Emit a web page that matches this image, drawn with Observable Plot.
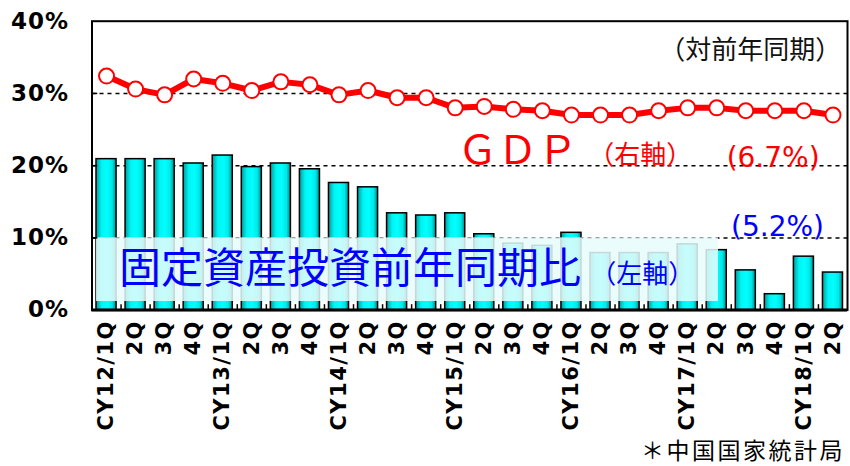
<!DOCTYPE html>
<html>
<head>
<meta charset="utf-8">
<script src="https://cdn.jsdelivr.net/npm/d3@7"></script>
<script src="https://cdn.jsdelivr.net/npm/@observablehq/plot@0.6"></script>
<style>
  html, body { margin: 0; padding: 0; background: #fff; }
  #chart { width: 850px; height: 466px; overflow: hidden; }
  #chart svg { display: block; }
  g[aria-label="x-axis tick label"] text { font-weight: bold; letter-spacing: 1.5px; }
  g[aria-label="y-axis tick label"] text { font-weight: bold; letter-spacing: 1px; }
  g[aria-label="pct-note"] text { letter-spacing: 1.5px; }
  g[aria-label="fai-label"] text { filter: drop-shadow(1.5px 1.5px 1px rgba(0,0,0,0.35)); }
  #caption { height: 34px; line-height: 34px; text-align: right; padding-right: 5px;
             font-family: "Noto Sans CJK JP"; font-size: 23px; letter-spacing: 2.5px; color: #000;
             white-space: nowrap; }
</style>
</head>
<body>
<div id="chart"></div>
<script>
// Quarter tick labels (CY12/1Q … CY18/2Q)
const xLabels = ["CY12/1Q","2Q","3Q","4Q","CY13/1Q","2Q","3Q","4Q","CY14/1Q","2Q","3Q","4Q",
                 "CY15/1Q","2Q","3Q","4Q","CY16/1Q","2Q","3Q","4Q","CY17/1Q","2Q","3Q","4Q",
                 "CY18/1Q","2Q"];
// Fixed-asset investment, YoY % (left axis)
const faiGrowth = [20.9,20.9,20.9,20.3,21.4,19.8,20.3,19.5,17.6,17.0,13.4,13.1,
                   13.4,10.5,9.2,8.9,10.7,7.9,7.9,7.9,9.1,8.3,5.5,2.2,7.4,5.2];
// GDP, YoY % (right axis, 0–10%)
const gdpGrowth = [8.1,7.65,7.45,8.0,7.85,7.6,7.9,7.8,7.45,7.6,7.35,7.35,
                   7.0,7.05,6.95,6.9,6.75,6.75,6.75,6.9,7.0,7.0,6.9,6.9,6.9,6.75];
const yTicks = [0,10,20,30,40];
const gridLines = [10,20,30];
const rightAxisFactor = 4; // right axis 0–10% spans the left axis 0–40%

const noteTexts = {
  period: "（対前年同期）",
  gdp: "ＧＤＰ",
  gdpAxis: "（右軸）",
  gdpLast: "(6.7%)",
  faiLast: "(5.2%)",
  fai: "固定資産投資前年同期比",
  faiAxis: "（左軸）"
};
const source = "＊中国国家統計局";

const idx = xLabels.map((_, i) => i);
const cjk = "Noto Sans CJK JP";
const half = 0.345;

const plot = Plot.plot({
  width: 850,
  height: 432,
  marginLeft: 91.5,
  marginRight: 3,
  marginTop: 20.7,
  marginBottom: 122.4,
  x: {type: "linear", domain: [-0.5, 25.5], axis: null},
  y: {domain: [0, 40], axis: null},
  style: {fontFamily: "DejaVu Sans", background: "white", color: "black", overflow: "visible"},
  marks: [
    Plot.ruleY(gridLines, {stroke: "#000", strokeWidth: 1.5, strokeDasharray: "4,4"}),
    Plot.rect(idx, {
      x1: i => i - half, x2: i => i + half, y1: 0, y2: i => faiGrowth[i],
      fill: "url(#barGrad)", stroke: "#000", strokeWidth: 1.5
    }),
    Plot.rect([0], {x1: -0.345, x2: 21.06, y1: 1.19, y2: 10, fill: "#e6fbfb", fillOpacity: 0.86}),
    Plot.ruleX(idx.slice(1), {x: i => i - 0.5, y1: 0, y2: 0.75, stroke: "#000", strokeWidth: 1.5}),
    Plot.ruleY(gridLines, {x1: -0.5, x2: -0.3, stroke: "#000", strokeWidth: 1.5}),
    Plot.line(idx, {x: i => i, y: i => gdpGrowth[i] * rightAxisFactor, stroke: "#ff0000", strokeWidth: 6}),
    Plot.dot(idx, {x: i => i, y: i => gdpGrowth[i] * rightAxisFactor, r: 7.5, fill: "#fff", stroke: "#ff0000", strokeWidth: 2}),
    Plot.frame({stroke: "#000", strokeWidth: 2}),
    Plot.ruleY([0], {stroke: "#000", strokeWidth: 3}),
    Plot.axisY({ticks: yTicks, tickFormat: d => d + "%", tickSize: 0, tickPadding: 23,
                fontSize: 23, fontWeight: "bold", anchor: "left"}),
    Plot.axisX({ticks: idx, tickFormat: i => xLabels[i], tickRotate: -90, tickSize: 0,
                tickPadding: 10, fontSize: 21, fontWeight: "bold", anchor: "bottom"}),
    Plot.text([noteTexts.period], {x: 22.15, y: 35.9, fontFamily: cjk, fontSize: 26, fill: "#111",
                                   textAnchor: "middle", lineAnchor: "middle"}),
    Plot.text([noteTexts.gdp], {x: 14.14, y: 21.97, fontFamily: cjk, fontSize: 40, fill: "#ff0000",
                                textAnchor: "middle", lineAnchor: "middle"}),
    Plot.text([noteTexts.gdpAxis], {x: 18.37, y: 21.36, fontFamily: cjk, fontSize: 26, fill: "#ff0000",
                                    textAnchor: "middle", lineAnchor: "middle"}),
    Plot.text([noteTexts.gdpLast], {x: 22.94, y: 21.03, fontFamily: "DejaVu Sans", fontSize: 28, fill: "#ff0000",
                                    textAnchor: "middle", lineAnchor: "middle", ariaLabel: "pct-note"}),
    Plot.text([noteTexts.faiLast], {x: 23.09, y: 11.55, fontFamily: "DejaVu Sans", fontSize: 28, fill: "#0000ff",
                                    textAnchor: "middle", lineAnchor: "middle", ariaLabel: "pct-note"}),
    Plot.text([noteTexts.fai], {x: 8.38, y: 5.6, fontFamily: cjk, fontSize: 42, fill: "#0000ff",
                                textAnchor: "middle", lineAnchor: "middle", ariaLabel: "fai-label"}),
    Plot.text([noteTexts.faiAxis], {x: 18.44, y: 4.96, fontFamily: cjk, fontSize: 26, fill: "#0000ff",
                                    textAnchor: "middle", lineAnchor: "middle", ariaLabel: "fai-label"})
  ]
});

// horizontal gradient for the cylinder-like cyan bars
const ns = "http://www.w3.org/2000/svg";
const defs = document.createElementNS(ns, "defs");
const grad = document.createElementNS(ns, "linearGradient");
grad.setAttribute("id", "barGrad");
grad.setAttribute("x1", "0"); grad.setAttribute("x2", "1");
grad.setAttribute("y1", "0"); grad.setAttribute("y2", "0");
[["0%", "#009a9a"], ["28%", "#00f4f4"], ["55%", "#00ffff"], ["80%", "#00e8e8"], ["100%", "#008c8c"]]
  .forEach(([o, c]) => {
    const s = document.createElementNS(ns, "stop");
    s.setAttribute("offset", o); s.setAttribute("stop-color", c);
    grad.appendChild(s);
  });
defs.appendChild(grad);
plot.insertBefore(defs, plot.firstChild);

const chart = document.getElementById("chart");
chart.appendChild(plot);
const cap = document.createElement("div");
cap.id = "caption";
cap.textContent = source;
chart.appendChild(cap);
</script>
</body>
</html>
